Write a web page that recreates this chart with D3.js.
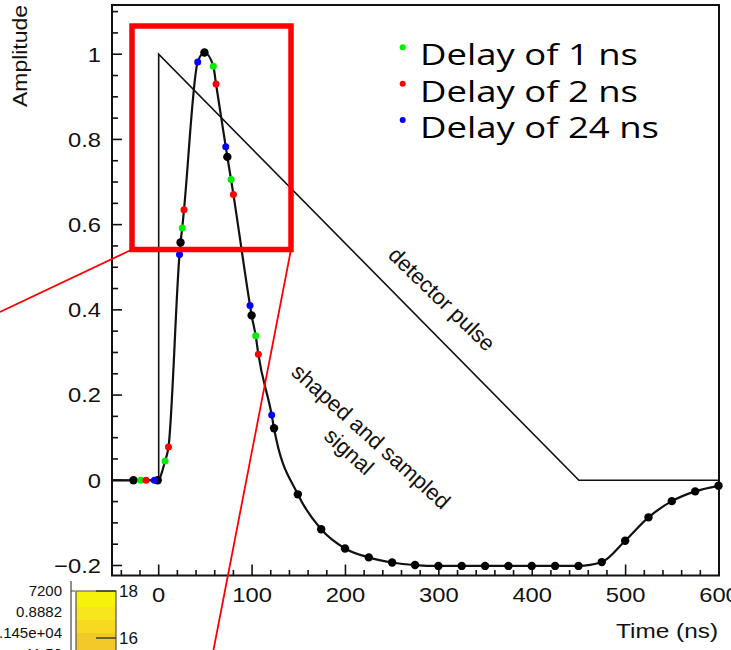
<!DOCTYPE html>
<html>
<head>
<meta charset="utf-8">
<script src="https://cdn.jsdelivr.net/npm/d3@7"></script>
<style>
  html, body { margin: 0; padding: 0; background: #fff; overflow: hidden; }
  svg { display: block; }
  .tick-label { font-family: "Liberation Sans", Arial, sans-serif; font-size: 21px; fill: #111; }
  .legend-label { font-family: "Open Sans", "Noto Sans", sans-serif; font-size: 29px; fill: #000; }
  .note { font-family: "Liberation Sans", Arial, sans-serif; font-size: 22px; fill: #111; }
  .cbar-label { font-family: "Liberation Sans", Arial, sans-serif; font-size: 15px; fill: #111; }
</style>
</head>
<body>
<svg id="chart" width="731" height="650"></svg>
<script>
// ---- shaped and sampled signal: nominal sampling (black) ----
const sampleTime = [-27, -1, 23.4, 49, 73.5, 99.5, 123.5, 149, 174, 199.5, 225, 250, 274.5, 299.5,
                    324.5, 349.5, 374.5, 399.5, 424.5, 449.5, 474.5, 499.5, 524.5, 549.5, 574.5, 599.5];
const sampleAmp  = [0, 0, 0.558, 1.004, 0.759, 0.387, 0.122, -0.033, -0.115, -0.16, -0.181, -0.193, -0.199, -0.201,
                    -0.201, -0.201, -0.201, -0.201, -0.201, -0.201, -0.192, -0.142, -0.087, -0.049, -0.026, -0.013];

// ---- delayed samplings ----
const delay1Time  = [-19.3, 6.8, 25.2, 58.5, 77.5, 103.9];
const delay1Amp   = [0, 0.045, 0.592, 0.972, 0.706, 0.339];
const delay2Time  = [-13.6, 10.5, 27.1, 61.4, 80, 106.7];
const delay2Amp   = [0, 0.078, 0.635, 0.93, 0.671, 0.296];
const delay24Time = [-4.6, 22.3, 41.8, 71.8, 97.8, 121];
const delay24Amp  = [0, 0.53, 0.982, 0.783, 0.41, 0.153];

// baseline of the shaped signal before the first sample
const signalLeadTime = [-50];
const signalLeadAmp  = [0];

// ---- detector pulse (instant rise, linear fall) ----
const pulseTime = [-50, 0, 0, 450, 600];
const pulseAmp  = [0, 0, 1, 0, 0];

// ---- legend ----
const legendLabels = ["Delay of 1 ns", "Delay of 2 ns", "Delay of 24 ns"];
const legendColors = ["#00ee00", "#ff0000", "#0000ff"];

// ---- axes ----
const xDomain = [-50, 600];
const yDomain = [-0.2235, 1.1155];
const xMajorTicks = [0, 100, 200, 300, 400, 500, 600];
const xMinorStep = 20;
const yMajorTicks = [-0.2, 0, 0.2, 0.4, 0.6, 0.8, 1];
const yMajorLabels = ["\u22120.2", "0", "0.2", "0.4", "0.6", "0.8", "1"];
const yMinorStep = 0.05;

// ---- neighbouring colour-scale strip ----
const cbarLeftLabels = ["7200", "0.8882", ".145e+04", "11.50"];
const cbarRightTicks = ["18", "16"];
const cbarBandColors = ["#f6f20c", "#f7e51d", "#f6d920", "#f2c928"];

const svg = d3.select("#chart");
const box = { left: 112, right: 719, top: 5, bottom: 575.5 };

const x = d3.scaleLinear().domain(xDomain).range([box.left, box.right]);
const y = d3.scaleLinear().domain(yDomain).range([box.bottom, box.top]);

// widen a text horizontally by a factor, keeping its anchor
function widen(sel, k) {
  sel.each(function () {
    const w = this.getComputedTextLength();
    d3.select(this).attr("textLength", w * k).attr("lengthAdjust", "spacingAndGlyphs");
  });
}

// ---- ticks (pointing inward) ----
const ticks = svg.append("g").attr("stroke", "#111").attr("stroke-width", 1.6);
d3.range(-40, 600.1, xMinorStep).forEach(t => {
  const major = xMajorTicks.includes(Math.round(t));
  ticks.append("line").attr("x1", x(t)).attr("x2", x(t))
    .attr("y1", box.bottom).attr("y2", box.bottom - (major ? 11 : 5.5));
});
d3.range(-0.2, 1.1001, yMinorStep).forEach(v => {
  const major = yMajorTicks.some(m => Math.abs(m - v) < 1e-6);
  ticks.append("line").attr("x1", box.left).attr("x2", box.left + (major ? 10 : 6))
    .attr("y1", y(v)).attr("y2", y(v));
});

// frame
svg.append("rect").attr("x", box.left).attr("y", box.top)
  .attr("width", box.right - box.left).attr("height", box.bottom - box.top)
  .attr("fill", "none").attr("stroke", "#111").attr("stroke-width", 2);

// tick labels
svg.append("g").selectAll("text").data(xMajorTicks).join("text")
  .attr("class", "tick-label").attr("x", d => x(d)).attr("y", 601.5)
  .attr("text-anchor", "middle").text(d => d)
  .call(widen, 1.13);
svg.append("g").selectAll("text").data(yMajorTicks).join("text")
  .attr("class", "tick-label").attr("x", 101).attr("y", d => y(d) + 7.4)
  .attr("text-anchor", "end").text((d, i) => yMajorLabels[i])
  .call(widen, 1.13);

// axis titles
svg.append("text").attr("class", "tick-label")
  .attr("x", 718).attr("y", 637.5).attr("text-anchor", "end")
  .attr("textLength", 102).attr("lengthAdjust", "spacingAndGlyphs")
  .text("Time (ns)");
svg.append("text").attr("class", "tick-label")
  .attr("transform", "translate(26.5,5) rotate(-90)").attr("text-anchor", "end")
  .attr("textLength", 102).attr("lengthAdjust", "spacingAndGlyphs")
  .text("Amplitude");

// ---- detector pulse ----
const line = d3.line().x(d => x(d[0])).y(d => y(d[1]));
svg.append("path").datum(d3.zip(pulseTime, pulseAmp))
  .attr("d", line).attr("fill", "none").attr("stroke", "#111").attr("stroke-width", 1.6);

// ---- shaped signal through every sample ----
const series = [
  { t: sampleTime,  a: sampleAmp,  color: "#000",         r: 4.2 },
  { t: delay1Time,  a: delay1Amp,  color: legendColors[0], r: 3.5 },
  { t: delay2Time,  a: delay2Amp,  color: legendColors[1], r: 3.5 },
  { t: delay24Time, a: delay24Amp, color: legendColors[2], r: 3.5 }
];
const allPoints = d3.zip(signalLeadTime, signalLeadAmp)
  .concat(...series.map(s => d3.zip(s.t, s.a)))
  .sort((p, q) => p[0] - q[0]);
svg.append("path").datum(allPoints)
  .attr("d", d3.line().x(d => x(d[0])).y(d => y(d[1])).curve(d3.curveMonotoneX))
  .attr("fill", "none").attr("stroke", "#111").attr("stroke-width", 2.2);

series.forEach(s => {
  svg.append("g").selectAll("circle").data(d3.zip(s.t, s.a)).join("circle")
    .attr("cx", d => x(d[0])).attr("cy", d => y(d[1])).attr("r", s.r).attr("fill", s.color);
});

// ---- annotations ----
svg.append("text").attr("class", "note")
  .attr("transform", "translate(387,256.5) rotate(44)").text("detector pulse");
svg.append("text").attr("class", "note").attr("text-anchor", "middle")
  .attr("transform", "translate(366,442) rotate(42)").text("shaped and sampled");
svg.append("text").attr("class", "note").attr("text-anchor", "middle")
  .attr("transform", "translate(344,457) rotate(42)").text("signal");

// ---- legend ----
const legendWidths = [218, 218, 239];
const legend = svg.append("g");
legendLabels.forEach((label, i) => {
  legend.append("circle").attr("cx", 402.7).attr("cy", 47.3 + i * 36.4).attr("r", 3)
    .attr("fill", legendColors[i]);
  legend.append("text").attr("class", "legend-label")
    .attr("x", 420).attr("y", 65 + i * 36.6)
    .attr("textLength", legendWidths[i]).attr("lengthAdjust", "spacingAndGlyphs")
    .text(label);
});

// ---- colour-scale strip below the frame ----
const cbar = svg.append("g");
const bandEdges = [591, 607, 620, 633, 652];
cbarBandColors.forEach((c, i) => {
  cbar.append("rect").attr("x", 76).attr("y", bandEdges[i]).attr("width", 40)
    .attr("height", bandEdges[i + 1] - bandEdges[i]).attr("fill", c);
});
cbar.append("path").attr("d", "M76,652V591H116V652").attr("fill", "none")
  .attr("stroke", "#555").attr("stroke-width", 1.2);
cbar.append("path").attr("d", "M71,581V650M71,591H75").attr("fill", "none")
  .attr("stroke", "#444").attr("stroke-width", 1.2);
[591, 638].forEach((ty, i) => {
  cbar.append("line").attr("x1", 96).attr("x2", 116).attr("y1", ty).attr("y2", ty)
    .attr("stroke", "#333").attr("stroke-width", 1.4);
  cbar.append("text").attr("class", "tick-label").style("font-size", "17px")
    .attr("x", 119).attr("y", ty + 6).text(cbarRightTicks[i]);
});
const cbarLeftY = [596, 616.5, 638.3, 659];
cbarLeftLabels.forEach((lab, i) => {
  cbar.append("text").attr("class", "cbar-label").attr("x", 62).attr("y", cbarLeftY[i])
    .attr("text-anchor", "end").text(lab);
});

// ---- red zoom window and its guide lines ----
const zoomBox = svg.append("g").attr("stroke", "#ff0000").attr("fill", "none");
zoomBox.append("rect").attr("x", 132).attr("y", 26).attr("width", 159).attr("height", 223.5)
  .attr("stroke-width", 5.5);
zoomBox.append("path").attr("d", "M132,249.5L0,312M291,249.5L213.5,650").attr("stroke-width", 1.8);
</script>
</body>
</html>
